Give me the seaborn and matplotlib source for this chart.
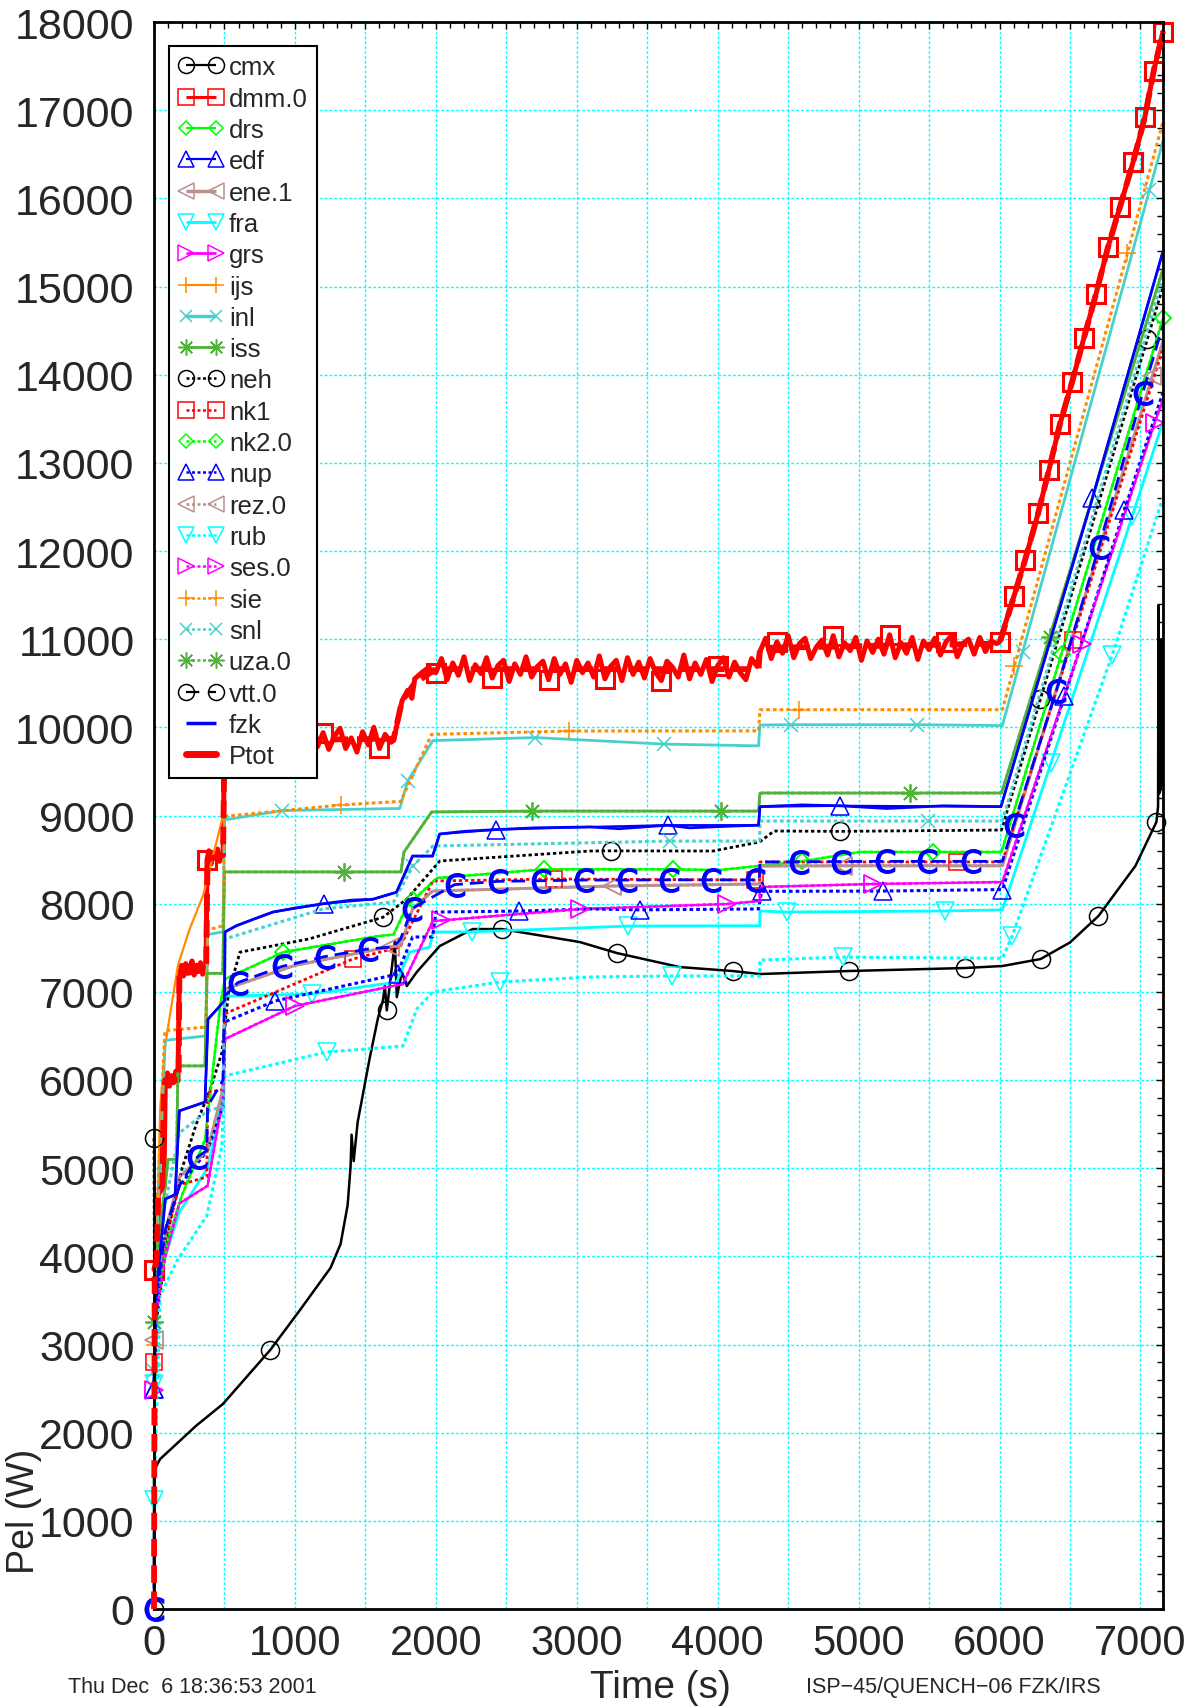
import numpy as np
import matplotlib
matplotlib.use("Agg")
import matplotlib.pyplot as plt
import seaborn as sns
from matplotlib.lines import Line2D
from matplotlib.ticker import MultipleLocator, FuncFormatter

# ---------------- data ----------------
CMX_T = [0, 0.1, 43, 300, 489, 826, 1040, 1253, 1324, 1374, 1395, 1402, 1417, 1445, 1532, 1589, 1624, 1638, 1652,
         1709, 1723, 1759, 1794, 1865, 2028, 2262, 2467, 2700, 3021, 3284, 3730, 4106, 4298, 4929, 5752, 6021,
         6291, 6500, 6702, 6965, 7113, 7125, 7128, 7133, 7145, 7148, 7152, 7160]
CMX_P = [0, 1570, 1700, 2080, 2325, 2940, 3400, 3870, 4140, 4580, 5020, 5380, 5080, 5520, 6260, 6700, 6900, 7066, 6790,
         7565, 6940, 7225, 7066, 7225, 7520, 7712, 7712, 7650, 7565, 7440, 7281, 7236, 7202, 7236, 7270, 7293,
         7372, 7560, 7860, 8430, 8926, 9100, 11380, 9250, 9300, 11000, 9350, 9450]
CMX_MK = [0, 826, 1652, 2467, 3284, 4106, 4929, 5752, 6291, 6702, 7113]

DMM_HEAD_T = [0, 20, 30, 70, 80, 95, 110, 125, 140, 155, 170, 180, 195, 210, 225, 240, 255, 270, 285, 300, 315,
              330, 345, 360, 370, 376, 390, 405, 420, 435, 450, 465, 480, 490, 500, 1150]
DMM_HEAD_P = [3850, 4000, 4700, 4800, 5950, 6080, 5930, 6050, 5970, 6100, 5990, 7200, 7300, 7180, 7320, 7220, 7280,
              7350, 7190, 7300, 7250, 7330, 7200, 7280, 7300, 8500, 8600, 8450, 8580, 8520, 8620, 8480, 8560, 8550,
              9850, 9850]
DMM_NOISE1 = [9780, 9940, 9750, 9900, 9990, 9760, 9880, 9720, 9950, 9800, 10000, 9760, 9920, 9830]  # from 1160 s, 40 s apart
DMM_MID_T = [1700, 1720, 1760, 1800, 1830, 1850, 1900, 1950, 1975]
DMM_MID_P = [9850, 10000, 10300, 10420, 10330, 10550, 10620, 10680, 10640]
DMM_NOISE2 = [10620, 10780, 10540, 10730, 10590, 10800, 10530, 10710, 10610, 10790, 10560, 10700, 10760, 10520,
              10720, 10600, 10800, 10570, 10690, 10750, 10540, 10780, 10600, 10720, 10510, 10760, 10620, 10730,
              10570, 10810, 10550, 10690, 10760, 10530, 10790, 10600, 10740, 10560, 10780, 10620, 10530, 10750,
              10680, 10570, 10820, 10550, 10730, 10600, 10770, 10520, 10700, 10790, 10570, 10740, 10620, 10540,
              10780, 10690]  # from 2000 s, 40 s apart
DMM_NOISE3 = [10860, 11010, 10780, 10970, 10840, 11040, 10790, 10950, 11010, 10780, 10910, 10990, 10820, 11040,
              10800, 10960, 10870, 11020, 10760, 10980, 10850, 11000, 10830, 11050, 10790, 10960, 10840, 11020,
              10770, 10980, 10880, 11010, 10820, 10970, 11040, 10800, 10950, 11000, 10830, 11020, 10860, 10980,
              10950]  # from 4300 s, 40 s apart
RAMP_T = [6000, 6103, 6181, 6274, 6351, 6429, 6514, 6599, 6684, 6769, 6854, 6947, 7032, 7094, 7160]
RAMP_P = [10970, 11490, 11898, 12429, 12923, 13442, 13912, 14418, 14912, 15443, 15900, 16407, 16926, 17445, 17890]
DMM_MK = [0, 376, 1200, 1600, 2000, 2400, 2800, 3200, 3600, 4000, 4420, 4820, 5220, 5620, 6000, 6103, 6181, 6274,
          6351, 6429, 6514, 6599, 6684, 6769, 6854, 6947, 7032, 7094, 7160]

DRS_T = [0, 20, 100, 200, 362, 470, 504, 918, 1580, 1700, 1794, 1838, 2007, 2766, 3684, 4006, 4600, 5007, 5525,
         6014, 6440, 7160]
DRS_P = [3000, 3500, 4200, 4700, 5320, 6850, 7145, 7450, 7630, 7650, 7970, 8040, 8290, 8390, 8390, 8380, 8480, 8586,
         8586, 8586, 10836, 14640]
DRS_MK = [918, 1838, 2766, 3684, 4600, 5525, 6440, 7160]

EDF_T = [0, 10, 80, 150, 180, 362, 383, 468, 500, 504, 585, 844, 1204, 1553, 1721, 1835, 1977, 2027, 2425, 3092,
         3646, 4290, 4300, 4867, 6010, 6659, 7160]
EDF_P = [2500, 3500, 4650, 4700, 5650, 5750, 6690, 6840, 6900, 7680, 7750, 7905, 8000, 8050, 8130, 8540, 8540, 8790,
         8840, 8870, 8890, 8890, 9100, 9110, 9100, 12600, 15400]
EDF_MK = [0, 1204, 2425, 3646, 4867, 6659]

ENE_T = [0, 20, 100, 180, 380, 490, 504, 1000, 1674, 1750, 1835, 1977, 3248, 4298, 4300, 4887, 6020, 7085, 7160]
ENE_P = [3050, 3700, 4400, 4900, 5200, 5900, 7030, 7300, 7510, 7520, 7940, 8143, 8200, 8223, 8427, 8430, 8430,
         13985, 14380]
ENE_MK = [0, 1674, 3248, 4887, 7085]

FRA_T = [0, 10, 80, 180, 380, 490, 504, 1121, 1721, 1815, 1957, 1980, 2255, 3362, 4298, 4300, 4489, 5610, 6020,
         6366, 6943, 7160]
FRA_P = [2550, 3500, 4000, 4500, 5000, 5800, 6950, 6975, 7111, 7451, 7508, 7678, 7680, 7746, 7750, 7917, 7905, 7917,
         7930, 9600, 12400, 13470]
FRA_MK = [0, 1121, 2255, 3362, 4489, 5610, 6366, 6943]

GRS_T = [0, 10, 80, 180, 380, 490, 504, 1000, 1766, 1979, 2040, 3021, 4064, 4298, 4300, 5099, 6020, 6582, 7100, 7160]
GRS_P = [2480, 3300, 4000, 4600, 4800, 5800, 6465, 6840, 7089, 7803, 7810, 7939, 7996, 8030, 8189, 8223, 8245, 10945,
         13450, 13720]
GRS_MK = [0, 1000, 2040, 3021, 4064, 5099, 6582, 7100]

IJS_T = [0, 15, 45, 80, 170, 250, 350, 490]
IJS_P = [3000, 4000, 5700, 6400, 7300, 7700, 8100, 9000]
IJS_MK = [0]

INL_T = [0, 15, 80, 370, 380, 490, 500, 911, 1744, 1800, 1979, 2703, 3617, 4290, 4300, 4520, 5411, 6020, 6165,
         7064, 7160]
INL_P = [2600, 4000, 6450, 6500, 7650, 7680, 8950, 9056, 9080, 9390, 9850, 9884, 9810, 9790, 10026, 10030, 10030,
         10020, 10860, 16094, 16650]
INL_MK = [911, 1800, 2703, 3617, 4520, 5411, 6165, 7064]

ISS_T = [0, 15, 80, 100, 160, 170, 362, 375, 488, 500, 1351, 1752, 1774, 1970, 2680, 4027, 4290, 4300, 5365, 6014,
         6355, 7160]
ISS_P = [3250, 4000, 4800, 5100, 5100, 6160, 6160, 7210, 7210, 8360, 8360, 8360, 8586, 9040, 9050, 9050, 9050, 9255,
         9255, 9255, 11024, 15200]
ISS_MK = [0, 1351, 2680, 4027, 5365, 6355]

NEH_T = [0, 5, 20, 100, 200, 300, 400, 480, 530, 610, 1100, 1624, 1794, 2028, 3092, 3244, 3967, 4298, 4400, 4865,
         6014, 6290, 7050, 7160]
NEH_P = [5340, 2500, 3300, 4300, 5000, 5500, 5900, 6300, 7000, 7450, 7600, 7845, 8053, 8484, 8597, 8599, 8597, 8700,
         8824, 8820, 8835, 10320, 14410, 15000]
NEH_MK = [0, 1624, 3244, 4865, 6290, 7050]

NK1_T = [0, 20, 100, 180, 375, 380, 490, 500, 1411, 1745, 1979, 2840, 4262, 4298, 4300, 5695, 6020, 6518, 7160]
NK1_P = [2800, 3400, 4300, 4810, 4900, 5860, 5890, 6750, 7372, 7508, 8257, 8280, 8268, 8270, 8473, 8473, 8473,
         10990, 14300]
NK1_MK = [0, 1411, 2840, 4262, 5695, 6518]

NUP_T = [0, 10, 80, 180, 380, 490, 504, 859, 1731, 1750, 1835, 1977, 2000, 2590, 3092, 3447, 4290, 4312, 5170, 6021,
         6461, 6886, 7160]
NUP_P = [2500, 3300, 4300, 4800, 5200, 5700, 6660, 6896, 7202, 7300, 7622, 7622, 7905, 7916, 7940, 7930, 7940, 8140,
         8143, 8160, 10350, 12464, 13800]
NUP_MK = [0, 859, 1731, 2590, 3447, 4312, 5170, 6021, 6461, 6886]

RUB_T = [0, 43, 163, 375, 482, 500, 1227, 1766, 1865, 1979, 2454, 3092, 3674, 4298, 4300, 4887, 6020, 6090, 6801,
         7160]
RUB_P = [1235, 3550, 3950, 4460, 5250, 6045, 6317, 6385, 6805, 7000, 7111, 7168, 7180, 7180, 7360, 7394, 7380, 7633,
         10826, 12610]
RUB_MK = [0, 1227, 2454, 3674, 4887, 6090, 6801]

SIE_T = [0, 15, 75, 80, 370, 380, 490, 500, 1329, 1750, 1970, 2943, 4290, 4300, 4580, 6020, 6106, 6908, 7160]
SIE_P = [3300, 4300, 6500, 6560, 6600, 7700, 7750, 8990, 9120, 9160, 9920, 9958, 9960, 10200, 10200, 10200, 10700,
         15380, 16870]
SIE_MK = [1329, 2943, 4580, 6106, 6908]

SNL_T = [0, 15, 80, 180, 380, 490, 504, 1199, 1700, 1837, 1979, 3660, 4298, 4300, 5489, 6020, 7160]
SNL_P = [2700, 3800, 4600, 5400, 5650, 5700, 7600, 7940, 8019, 8427, 8654, 8710, 8710, 8937, 8937, 8937, 15100]
SNL_MK = [0, 1837, 3660, 5489]

VTT_T = [0, 5, 20, 80, 180, 308, 375, 380, 490, 500, 594, 911, 1213, 1522, 1700, 1750, 1831, 2133, 2442, 2743,
         3052, 3353, 3655, 3956, 4265, 4295, 4300, 4574, 4876, 5185, 5486, 5795, 6020, 6101, 6403, 6705, 7015, 7160]
VTT_P = [0, 3000, 3600, 4300, 4800, 5127, 5200, 5700, 6000, 6950, 7104, 7289, 7400, 7487, 7510, 7600, 7944, 8216,
         8253, 8260, 8268, 8268, 8270, 8270, 8270, 8270, 8473, 8475, 8478, 8480, 8480, 8480, 8480, 8896, 10415,
         12046, 13788, 14560]
VTT_MK = [0, 308, 594, 911, 1213, 1522, 1831, 2133, 2442, 2743, 3052, 3353, 3655, 3956, 4265, 4574, 4876, 5185,
          5486, 5795, 6101, 6403, 6705, 7015]

FZK_T = [0, 10, 80, 150, 180, 362, 383, 468, 500, 504, 585, 700, 844, 1000, 1204, 1400, 1553, 1721, 1835, 1977,
         2027, 2200, 2425, 2700, 3092, 3300, 3646, 3800, 4100, 4290, 4300, 4600, 4867, 5200, 5600, 6010, 6659, 7160]
FZK_P = [2500, 3500, 4650, 4700, 5650, 5750, 6690, 6840, 6900, 7680, 7750, 7820, 7905, 7950, 8000, 8040, 8050, 8130,
         8540, 8540, 8790, 8820, 8840, 8860, 8870, 8850, 8890, 8860, 8880, 8890, 9100, 9120, 9110, 9080, 9110, 9100,
         12600, 15400]

PTOT_T = [0, 5, 20, 30, 60, 70, 80, 175, 180, 370, 380, 490, 500, 1700, 1760, 1850, 2000, 4290, 4300, 6000] + RAMP_T[1:]
PTOT_P = [0, 3800, 4000, 4700, 4800, 5900, 6000, 6000, 7200, 7250, 8500, 8550, 9850, 9870, 10300, 10500, 10660, 10660,
          10900, 10950] + RAMP_P[1:]

LEGEND_LABELS = ["cmx", "dmm.0", "drs", "edf", "ene.1", "fra", "grs", "ijs", "inl", "iss", "neh", "nk1", "nk2.0",
                 "nup", "rez.0", "rub", "ses.0", "sie", "snl", "uza.0", "vtt.0", "fzk", "Ptot"]

# ---------------- assemble dmm.0 trace ----------------
DMM_T = (DMM_HEAD_T + list(1160 + 40 * np.arange(len(DMM_NOISE1))) + DMM_MID_T
         + list(2000 + 40 * np.arange(len(DMM_NOISE2))) + list(4300 + 40 * np.arange(len(DMM_NOISE3))) + RAMP_T)
DMM_P = DMM_HEAD_P + DMM_NOISE1 + DMM_MID_P + DMM_NOISE2 + DMM_NOISE3 + RAMP_P

# ---------------- styles ----------------
BLACK, RED, LIME, BLUE = "black", "#ff0000", "#00ff00", "#0000ff"
ROSY, CYAN, MAG, ORANGE = "#bc8f8f", "#00ffff", "#ff00ff", "#ff8c00"
TURQ, GREEN = "#48d1cc", "#4fb33a"
SOLID = "-"
DOT = (0, (1.2, 1.0))
LDASH = (0, (5, 2.5))
AST = (8, 2, 0)
CMARK = r"$\mathsf{C}$"

sns.set_style("white")
plt.rcParams["font.family"] = ["Liberation Sans", "DejaVu Sans"]
plt.rcParams["mathtext.fontset"] = "dejavusans"

fig = plt.figure(figsize=(11.9, 17.08), dpi=100)
ax = fig.add_axes([154 / 1190, 98 / 1708, 1009 / 1190, 1587 / 1708])


def draw(t, p, color, ls, marker=None, mk=None, lw=1.6, ms=12, mew=1.1, mfc="none", z=2):
    t = np.asarray(t, dtype=float)
    p = np.asarray(p, dtype=float)
    idx = list(np.nonzero(np.isin(t, mk))[0]) if mk else None
    sns.lineplot(x=t, y=p, ax=ax, color=color, linestyle=ls, linewidth=lw, marker=marker, markevery=idx,
                 markersize=ms, markeredgecolor=color, markerfacecolor=mfc, markeredgewidth=mew,
                 estimator=None, sort=False, legend=False, errorbar=None, zorder=z, clip_on=False)


draw(CMX_T, CMX_P, BLACK, SOLID, "o", CMX_MK, lw=1.8, ms=13)
draw(DMM_T, DMM_P, RED, SOLID, "s", DMM_MK, lw=3.6, ms=13, mew=2.2)
draw(DRS_T, DRS_P, LIME, SOLID, "D", DRS_MK, ms=8)
draw(EDF_T, EDF_P, BLUE, SOLID, "^", EDF_MK, ms=13)
draw(ENE_T, ENE_P, ROSY, SOLID, "<", ENE_MK, lw=2.2, ms=13)
draw(FRA_T, FRA_P, CYAN, SOLID, "v", FRA_MK, lw=2.0, ms=13)
draw(GRS_T, GRS_P, MAG, SOLID, ">", GRS_MK, ms=13)
draw(IJS_T, IJS_P, ORANGE, SOLID, "+", IJS_MK, ms=12)
draw(INL_T, INL_P, TURQ, SOLID, "x", INL_MK, lw=2.0, ms=10)
draw(ISS_T, ISS_P, GREEN, SOLID, AST, ISS_MK, lw=2.0, ms=13)
draw(NEH_T, NEH_P, BLACK, DOT, "o", NEH_MK, lw=2.0, ms=13)
draw(NK1_T, NK1_P, RED, DOT, "s", NK1_MK, lw=2.0, ms=11)
draw(DRS_T, DRS_P, LIME, DOT, "D", DRS_MK, lw=2.0, ms=8)          # nk2.0 (coincides with drs)
draw(NUP_T, NUP_P, BLUE, DOT, "^", NUP_MK, lw=2.2, ms=13)
draw(ENE_T, ENE_P, ROSY, DOT, "<", ENE_MK, lw=2.0, ms=13)         # rez.0 (coincides with ene.1)
draw(RUB_T, RUB_P, CYAN, DOT, "v", RUB_MK, lw=2.2, ms=13)
draw(GRS_T, GRS_P, MAG, DOT, ">", GRS_MK, lw=2.0, ms=13)          # ses.0 (coincides with grs)
draw(SIE_T, SIE_P, ORANGE, DOT, "+", SIE_MK, lw=2.2, ms=13)
draw(SNL_T, SNL_P, TURQ, DOT, "x", SNL_MK, lw=2.2, ms=10)
draw(ISS_T, ISS_P, GREEN, DOT, AST, ISS_MK, lw=2.0, ms=13)        # uza.0 (coincides with iss)
draw(VTT_T, VTT_P, BLUE, LDASH, CMARK, VTT_MK, lw=2.0, ms=17, mew=1.0, mfc=BLUE)
draw(FZK_T, FZK_P, BLUE, SOLID, None, None, lw=2.0)
draw(PTOT_T, PTOT_P, RED, (0, (3, 1.5)), None, None, lw=4.2, z=3)

ax.set_xlim(0, 7160)
ax.set_ylim(0, 18000)
ax.set_xlabel("")
ax.set_ylabel("")

ax.xaxis.set_major_locator(MultipleLocator(500))
ax.xaxis.set_minor_locator(MultipleLocator(100))
ax.xaxis.set_major_formatter(FuncFormatter(lambda v, pos: f"{int(round(v))}" if round(v) % 1000 == 0 else ""))
ax.yaxis.set_major_locator(MultipleLocator(1000))
ax.yaxis.set_minor_locator(MultipleLocator(200))
ax.tick_params(axis="both", which="both", direction="in", top=True, right=True, color="black", width=1.0)
ax.tick_params(axis="both", which="major", length=5)
ax.tick_params(axis="both", which="minor", length=4.5)
ax.tick_params(axis="x", which="major", pad=10, labelsize=30)
ax.tick_params(axis="y", which="major", pad=14, labelsize=31)
for s in ax.spines.values():
    s.set_color("black")
    s.set_linewidth(2.0)
ax.grid(True, which="major", color=CYAN, linestyle=(0, (2, 1.5)), linewidth=1.0)
ax.set_axisbelow(True)

# legend with proxy handles
def h(color, ls, marker=None, lw=1.6, ms=11.5, mew=1.1, mfc="none", cap="butt"):
    return Line2D([0], [0], color=color, linestyle=ls, linewidth=lw, marker=marker, markersize=ms,
                  markeredgecolor=color, markerfacecolor=mfc, markeredgewidth=mew, solid_capstyle=cap)

handles = [h(BLACK, SOLID, "o"), h(RED, SOLID, "s", lw=2.2, ms=11), h(LIME, SOLID, "D", ms=7.5), h(BLUE, SOLID, "^"),
           h(ROSY, SOLID, "<", lw=2.5), h(CYAN, SOLID, "v", lw=2.0), h(MAG, SOLID, ">", lw=2.0),
           h(ORANGE, SOLID, "+"), h(TURQ, SOLID, "x", lw=2.5, ms=9), h(GREEN, SOLID, AST, lw=2.0),
           h(BLACK, DOT, "o", lw=1.8), h(RED, DOT, "s", lw=1.8, ms=11), h(LIME, DOT, "D", lw=1.8, ms=7.5),
           h(BLUE, DOT, "^", lw=1.8), h(ROSY, DOT, "<", lw=1.8), h(CYAN, DOT, "v", lw=1.8),
           h(MAG, DOT, ">", lw=1.8), h(ORANGE, DOT, "+", lw=1.8), h(TURQ, DOT, "x", lw=1.8, ms=9),
           h(GREEN, DOT, AST, lw=1.8), h(BLACK, (0, (6, 4)), "o", lw=1.6),
           h(BLUE, SOLID, None, lw=2.5), h(RED, SOLID, None, lw=5.0, cap="round")]
leg = ax.legend(handles, LEGEND_LABELS, loc="upper left", bbox_to_anchor=(15 / 1009, (1610 - 47) / 1587),
                borderaxespad=0, numpoints=2, fontsize=18.5, handlelength=1.75, handletextpad=0.22,
                borderpad=0.36, labelspacing=0.285, frameon=True, fancybox=False, framealpha=1.0)
leg.get_frame().set_edgecolor("black")
leg.get_frame().set_linewidth(1.5)
leg.set_zorder(10)

# axis titles and annotations
fig.text(24 / 1190, 1 - 1511 / 1708, "Pel (W)", rotation=90, ha="center", va="center", fontsize=27)
fig.text(660 / 1190, 1 - 1688 / 1708, "Time (s)", ha="center", va="center", fontsize=28)
fig.text(68 / 1190, 1 - 1688 / 1708, "Thu Dec  6 18:36:53 2001", ha="left", va="center", fontsize=15.5)
fig.text(806 / 1190, 1 - 1688 / 1708, "ISP\u221245/QUENCH\u221206 FZK/IRS", ha="left", va="center", fontsize=15.5)

fig.savefig("out.png", dpi=100)
